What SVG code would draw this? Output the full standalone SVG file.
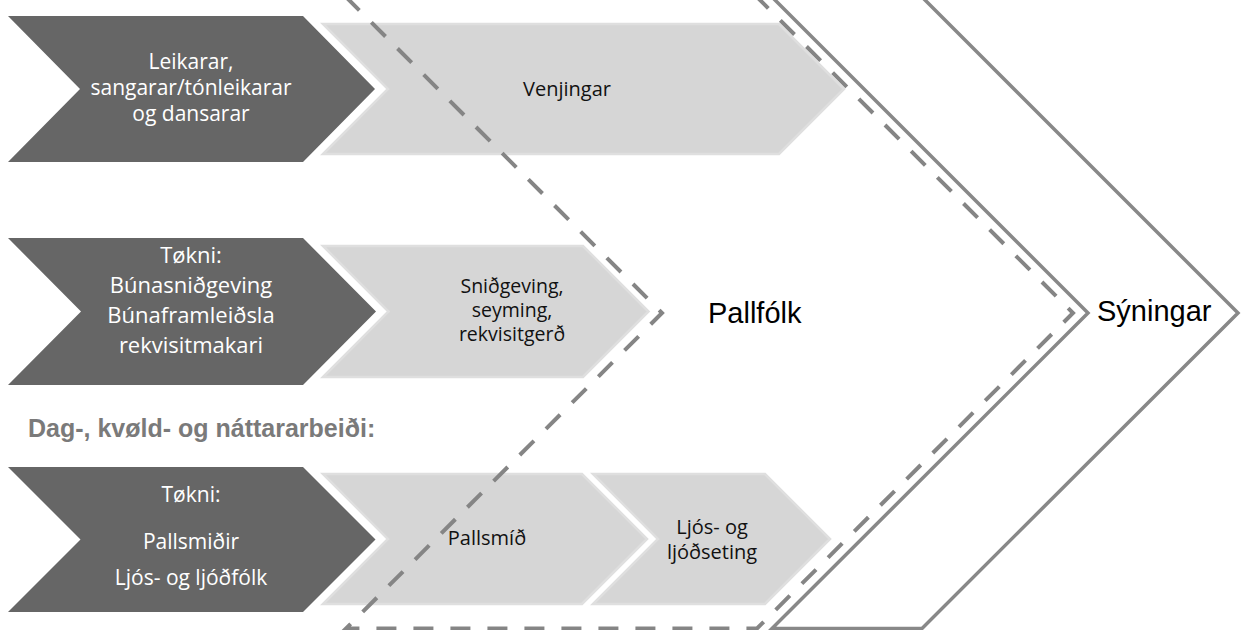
<svg xmlns="http://www.w3.org/2000/svg" width="1244" height="630" viewBox="0 0 1244 630">
<style>
.dark{fill:#666666;}
.light{fill:#d6d6d6;stroke:#dfdfdf;stroke-width:2.5;stroke-linejoin:miter;}
.wt{font-family:"Open Sans","Noto Sans",sans-serif;fill:#ffffff;text-anchor:middle;}
.bt{font-family:"Open Sans","Noto Sans",sans-serif;fill:#111111;text-anchor:middle;}
.big{font-family:"Liberation Sans",Arial,sans-serif;fill:#000000;font-size:29px;}
.head{font-family:"Liberation Sans",Arial,sans-serif;font-weight:bold;fill:#7a7a7a;font-size:25px;}
.dash{fill:none;stroke:#858585;stroke-width:4;stroke-dasharray:20 17;}
.solid{fill:none;stroke:#888888;stroke-width:3.5;stroke-linejoin:miter;}
</style>
<rect width="1244" height="630" fill="#ffffff"/>
<g id="row1-dark">
<path class="dark" d="M8,16 L303,16 L375,89 L303,162 L8,162 L80,89 Z"/>
<text class="wt" font-size="21"><tspan x="191" y="69">Leikarar,</tspan><tspan x="191" y="95">sangarar/tónleikarar</tspan><tspan x="191" y="121">og dansarar</tspan></text>
</g>
<g id="row1-light">
<path class="light" d="M323,24 L779,24 L844,89 L779,154 L323,154 L388,89 Z"/>
<text class="bt" font-size="20" x="567" y="96">Venjingar</text>
</g>
<g id="row2-dark">
<path class="dark" d="M8,238 L303,238 L376,311.5 L303,385 L8,385 L81,311.5 Z"/>
<text class="wt" font-size="22"><tspan x="191" y="263">Tøkni:</tspan><tspan x="191" y="293">Búnasniðgeving</tspan><tspan x="191" y="323">Búnaframleiðsla</tspan><tspan x="191" y="353">rekvisitmakari</tspan></text>
</g>
<g id="row2-light">
<path class="light" d="M323,246 L583,246 L648.5,311.5 L583,377 L323,377 L388.5,311.5 Z"/>
<text class="bt" font-size="19.5"><tspan x="512" y="293">Sniðgeving,</tspan><tspan x="512" y="317">seyming,</tspan><tspan x="512" y="341">rekvisitgerð</tspan></text>
</g>
<g id="heading">
<text class="head" x="28" y="437">Dag-, kvøld- og náttararbeiði:</text>
</g>
<g id="row3-dark">
<path class="dark" d="M8,467 L303,467 L375.5,539.5 L303,612 L8,612 L80.5,539.5 Z"/>
<text class="wt" font-size="21"><tspan x="191" y="502">Tøkni:</tspan><tspan x="191" y="549">Pallsmiðir</tspan><tspan x="191" y="585">Ljós- og ljóðfólk</tspan></text>
</g>
<g id="row3-light1">
<path class="light" d="M323,474 L582,474 L647,539 L582,604 L323,604 L388,539 Z"/>
<text class="bt" font-size="20" x="487" y="545">Pallsmíð</text>
</g>
<g id="row3-light2">
<path class="light" d="M593,474 L765,474 L830,539 L765,604 L593,604 L658,539 Z"/>
<text class="bt" font-size="20"><tspan x="712" y="534">Ljós- og</tspan><tspan x="712" y="559">ljóðseting</tspan></text>
</g>
<g id="connectors">
<path id="pallfolk-outline" class="dash" d="M346,-3 L757,-3 L1073,313 L757,628.5 L346,628.5 L662,313 Z"/>
<path id="syningar-outline" class="solid" d="M772,-3 L922,-3 L1238,313 L922,628.5 L772,628.5 L1088,313 Z"/>
</g>
<g id="pallfolk">
<text class="big" x="708" y="323">Pallfólk</text>
</g>
<g id="syningar">
<text class="big" x="1097" y="321">Sýningar</text>
</g>
</svg>
